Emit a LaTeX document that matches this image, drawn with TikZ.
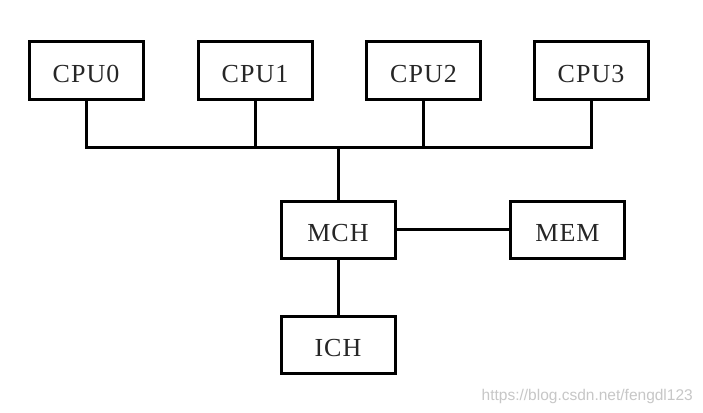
\documentclass[tikz,border=0pt]{standalone}
\usepackage{fontspec}
\setmainfont{Liberation Serif}[LetterSpace=4]
\newfontfamily\wmfont{Liberation Sans}
\begin{document}
\begin{tikzpicture}[x=1pt,y=-1pt,
  blk/.style={draw=black,line width=3pt,inner sep=0pt,minimum width=114pt,minimum height=57pt,
    text=black!85,font=\fontsize{26}{26}\selectfont,text height=24pt,text depth=0pt},
  wire/.style={line width=3pt,black}]
\useasboundingbox (0,0) rectangle (703,412);
\fill[white] (0,0) rectangle (703,412);
\node[blk] (cpu0) at (86,70.5) {CPU0};
\node[blk] (cpu1) at (255,70.5) {CPU1};
\node[blk] (cpu2) at (423.5,70.5) {CPU2};
\node[blk] (cpu3) at (591,70.5) {CPU3};
\node[blk] (mch) at (338,229.5) {MCH};
\node[blk] (mem) at (567.5,229.5) {MEM};
\node[blk] (ich) at (338,344.5) {ICH};
\coordinate (bus) at (338,147);
\draw[wire] (cpu0.south) |- (bus);
\draw[wire] (cpu3.south) |- (bus);
\draw[wire] (cpu1.south) -- (cpu1.south |- bus);
\draw[wire] (cpu2.south) -- (cpu2.south |- bus);
\draw[wire] (bus) -- (mch.north);
\draw[wire] (mch.east) -- (mem.west);
\draw[wire] (mch.south) -- (ich.north);
\node[anchor=base east,inner sep=0pt,text=black!22,font=\wmfont\fontsize{15.5}{15.5}\selectfont] (wm) at (693,400) {https://blog.csdn.net/fengdl123};
\end{tikzpicture}
\end{document}
